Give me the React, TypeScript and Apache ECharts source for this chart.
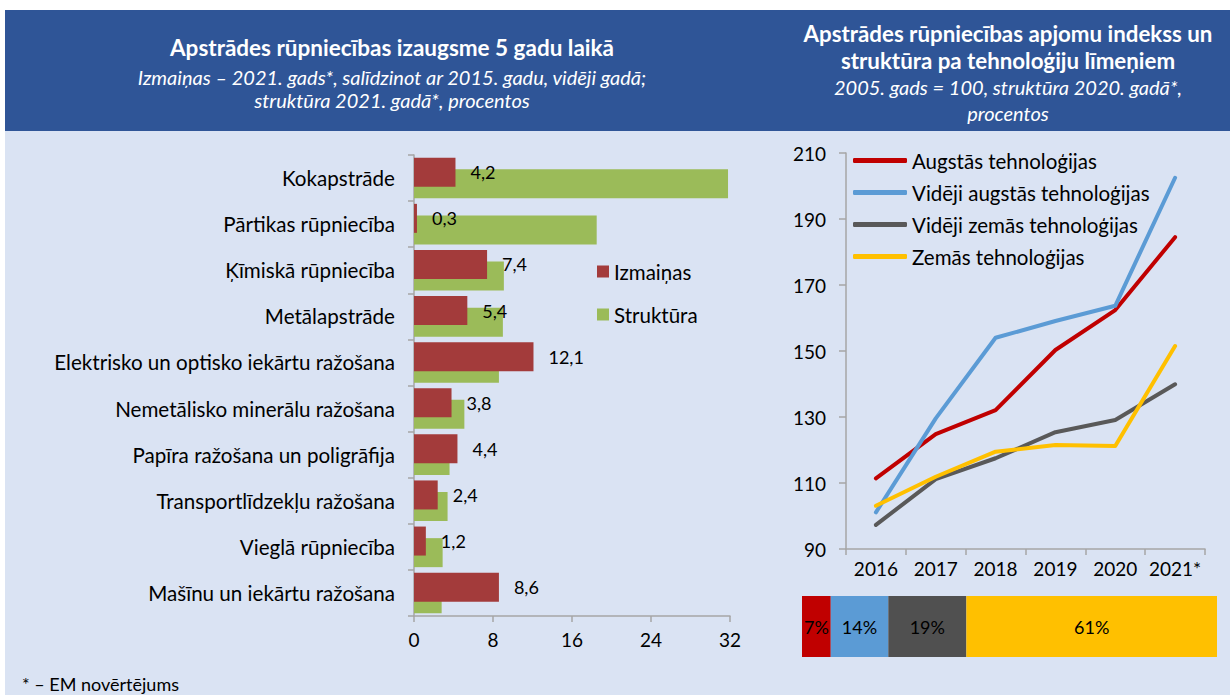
import React, { useEffect, useRef } from 'react';
import * as echarts from 'echarts';

const FONT = 'Lato, "Noto Sans", sans-serif';

// ---- Left chart data ----
const categories = [
  'Kokapstrāde',
  'Pārtikas rūpniecība',
  'Ķīmiskā rūpniecība',
  'Metālapstrāde',
  'Elektrisko un optisko iekārtu ražošana',
  'Nemetālisko minerālu ražošana',
  'Papīra ražošana un poligrāfija',
  'Transportlīdzekļu ražošana',
  'Vieglā rūpniecība',
  'Mašīnu un iekārtu ražošana',
];
const izmainas = [4.2, 0.3, 7.4, 5.4, 12.1, 3.8, 4.4, 2.4, 1.2, 8.6];
const struktura = [31.8, 18.5, 9.1, 9.0, 8.6, 5.1, 3.6, 3.4, 2.9, 2.8];
const leftTicks = [0, 8, 16, 24, 32];

// ---- Right chart data ----
const years = ['2016', '2017', '2018', '2019', '2020', '2021*'];
const augstas = [111.4, 124.8, 132.1, 150.3, 162.4, 184.5];
const videjiAugstas = [101.1, 129.6, 154.0, 159.1, 163.7, 202.5];
const videjiZemas = [97.3, 111.2, 117.5, 125.4, 129.1, 139.9];
const zemas = [103.1, 111.9, 119.5, 121.5, 121.2, 151.5];
const rightTicks = [90, 110, 130, 150, 170, 190, 210];

// ---- Structure 2020 ----
const techNames = ['Augstās tehnoloģijas', 'Vidēji augstās tehnoloģijas', 'Vidēji zemās tehnoloģijas', 'Zemās tehnoloģijas'];
const techShares = [7, 14, 19, 61];
const techColors = ['#C00000', '#5B9BD5', '#505050', '#FFC000'];
const lineColors = ['#C00000', '#5B9BD5', '#595959', '#FFC000'];
const techLines = [augstas, videjiAugstas, videjiZemas, zemas];

const AXIS_COLOR = '#A6A6A6';

function buildOption(): any {
  const txt = (x: number, y: number, text: string, size: number, bold: boolean, italic: boolean, color = '#fff', align = 'center') => ({
    type: 'text',
    x,
    y,
    silent: true,
    style: {
      text,
      fill: color,
      fontSize: size,
      fontWeight: bold ? 'bold' : 'normal',
      fontStyle: italic ? 'italic' : 'normal',
      fontFamily: FONT,
      align,
      verticalAlign: 'middle',
    },
  });

  return {
    animation: false,
    textStyle: { fontFamily: FONT },
    graphic: [
      { type: 'rect', z: -10, silent: true, shape: { x: 5, y: 131, width: 1225, height: 564 }, style: { fill: '#DAE3F3' } },
      { type: 'rect', z: -10, silent: true, shape: { x: 5, y: 10, width: 1225, height: 121 }, style: { fill: '#2F5597' } },
      txt(392, 47, 'Apstrādes rūpniecības izaugsme 5 gadu laikā', 22.5, true, false),
      txt(392, 77, 'Izmaiņas – 2021. gads*, salīdzinot ar 2015. gadu, vidēji gadā;', 20, false, true),
      txt(392, 100, 'struktūra 2021. gadā*, procentos', 20, false, true),
      txt(1008, 33, 'Apstrādes rūpniecības apjomu indekss un', 22.3, true, false),
      txt(1008, 60, 'struktūra pa tehnoloģiju līmeņiem', 22.3, true, false),
      txt(1008, 87, '2005. gads = 100, struktūra 2020. gadā*,', 20, false, true),
      txt(1008, 113, 'procentos', 20, false, true),
      txt(22, 684, '* – EM novērtējums', 18, false, false, '#000', 'left'),
    ],
    legend: [
      {
        data: ['Izmaiņas', 'Struktūra'],
        orient: 'vertical',
        left: 597,
        top: 261,
        padding: 0,
        icon: 'rect',
        itemWidth: 12,
        itemHeight: 12,
        itemGap: 22,
        textStyle: { fontSize: 20.5, color: '#000', fontFamily: FONT },
      },
      {
        data: techNames,
        orient: 'vertical',
        left: 853,
        top: 150,
        padding: 0,
        icon: 'roundRect',
        itemWidth: 54,
        itemHeight: 5,
        itemGap: 11,
        textStyle: { fontSize: 20.5, color: '#000', fontFamily: FONT },
      },
    ],
    grid: [
      { left: 414, top: 155, width: 316, height: 461 },
      { left: 846, top: 153, width: 359, height: 396 },
      { left: 802, top: 596, width: 415, height: 61 },
    ],
    xAxis: [
      {
        gridIndex: 0,
        type: 'value',
        min: 0,
        max: 32,
        interval: 8,
        splitLine: { show: false },
        axisLine: { show: true, lineStyle: { color: AXIS_COLOR, width: 1.5 } },
        axisTick: { show: true, length: 6, lineStyle: { color: AXIS_COLOR, width: 1.5 }, customValues: leftTicks },
        axisLabel: { fontSize: 19, color: '#000', margin: 14, fontFamily: FONT, customValues: leftTicks },
      },
      {
        gridIndex: 1,
        type: 'category',
        data: years,
        boundaryGap: true,
        axisLine: { show: true, lineStyle: { color: AXIS_COLOR, width: 1.5 } },
        axisTick: { show: true, length: 6, interval: 0, lineStyle: { color: AXIS_COLOR, width: 1.5 } },
        axisLabel: { fontSize: 19, color: '#000', margin: 10, interval: 0, fontFamily: FONT },
      },
      {
        gridIndex: 2,
        type: 'value',
        min: 0,
        max: 101,
        show: false,
      },
    ],
    yAxis: [
      {
        gridIndex: 0,
        type: 'category',
        data: categories,
        inverse: true,
        axisLine: { show: true, lineStyle: { color: AXIS_COLOR, width: 1.5 } },
        axisTick: { show: true, length: 6, lineStyle: { color: AXIS_COLOR, width: 1.5 } },
        axisLabel: { fontSize: 20.6, color: '#000', margin: 19, fontFamily: FONT },
      },
      {
        gridIndex: 1,
        type: 'value',
        min: 90,
        max: 210,
        splitLine: { show: false },
        axisLine: { show: true, lineStyle: { color: AXIS_COLOR, width: 1.5 } },
        axisTick: { show: true, length: 7, lineStyle: { color: AXIS_COLOR, width: 1.5 }, customValues: rightTicks },
        axisLabel: { fontSize: 19, color: '#000', margin: 20, fontFamily: FONT, customValues: rightTicks },
      },
      {
        gridIndex: 2,
        type: 'category',
        data: ['2020'],
        show: false,
      },
    ],
    series: [
      {
        name: 'Izmaiņas',
        type: 'bar',
        xAxisIndex: 0,
        yAxisIndex: 0,
        data: izmainas,
        barWidth: 29,
        barGap: '-60%',
        z: 3,
        itemStyle: { color: '#A33B3B' },
        label: {
          show: true,
          position: 'right',
          distance: 15,
          fontSize: 18,
          color: '#000',
          fontFamily: FONT,
          formatter: (p: any) => String(p.value.toFixed(1)).replace('.', ','),
        },
      },
      {
        name: 'Struktūra',
        type: 'bar',
        xAxisIndex: 0,
        yAxisIndex: 0,
        data: struktura,
        barWidth: 29,
        barGap: '-60%',
        z: 2,
        itemStyle: { color: '#9BBB59' },
      },
      ...techNames.map((name, i) => ({
        name,
        type: 'line',
        xAxisIndex: 1,
        yAxisIndex: 1,
        data: techLines[i],
        symbol: 'none',
        color: lineColors[i],
        lineStyle: { width: 4, color: lineColors[i], cap: 'round', join: 'round' },
        z: 3 + i,
      })),
      ...techNames.map((name, i) => ({
        name: name + ' ',
        type: 'bar',
        xAxisIndex: 2,
        yAxisIndex: 2,
        stack: 'share',
        data: [techShares[i]],
        barWidth: '100%',
        itemStyle: { color: techColors[i] },
        label: {
          show: true,
          position: 'inside',
          formatter: '{c}%',
          fontSize: 18,
          color: '#000',
          fontFamily: FONT,
        },
      })),
    ],
  };
}

export default function App() {
  const ref = useRef<HTMLDivElement>(null);
  useEffect(() => {
    document.body.style.margin = '0';
    const chart = echarts.init(ref.current!, null, { renderer: 'svg' });
    chart.setOption(buildOption());
    return () => chart.dispose();
  }, []);
  return <div ref={ref} style={{ width: 1230, height: 695 }} />;
}
